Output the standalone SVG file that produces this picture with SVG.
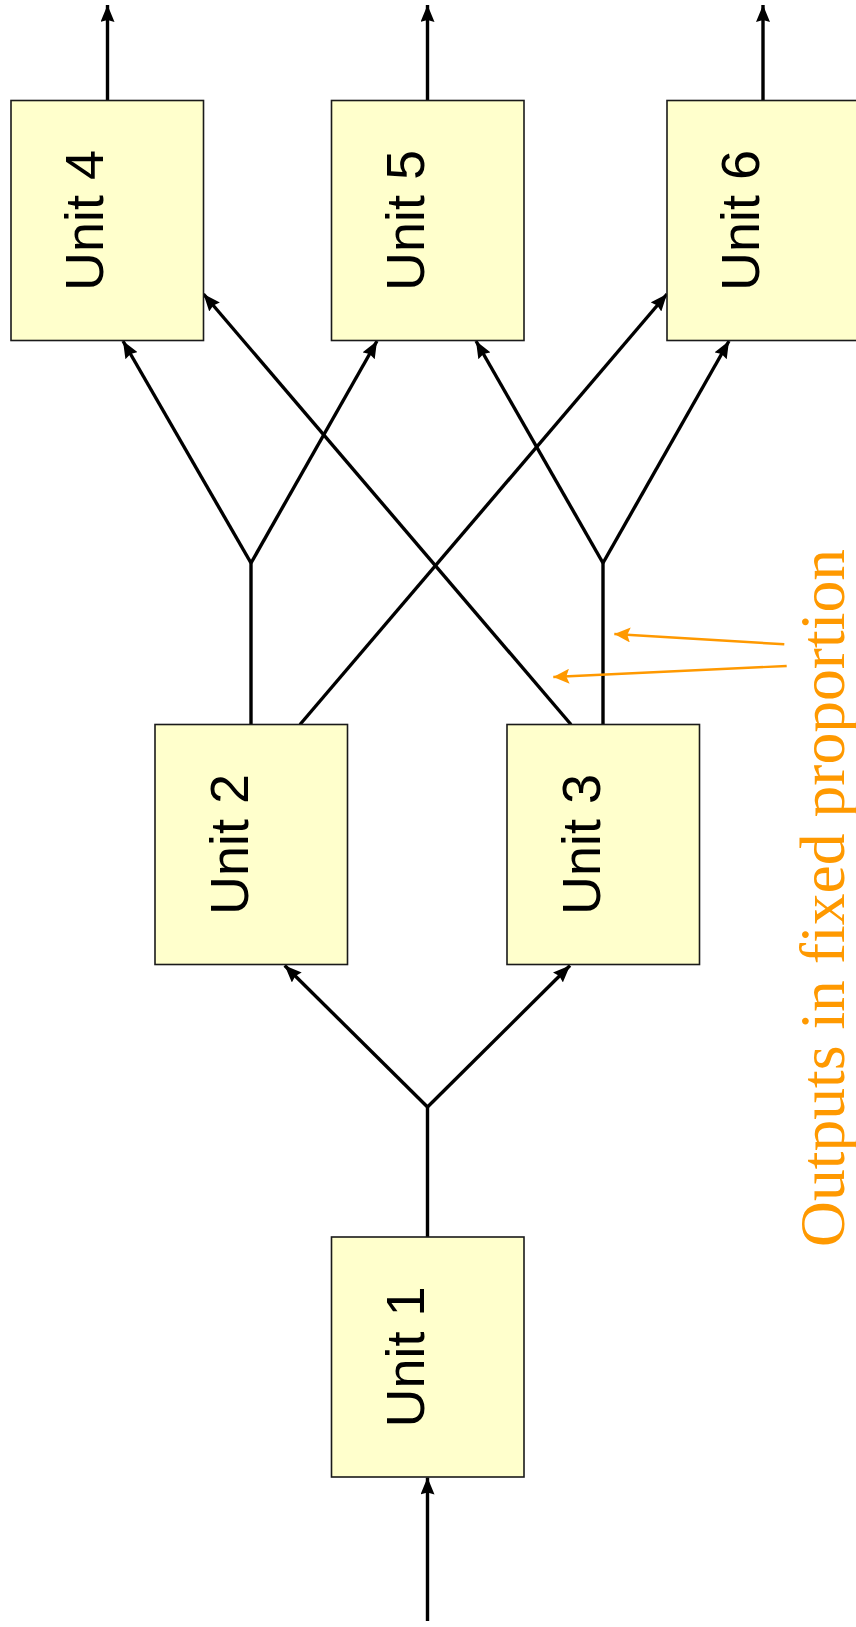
<svg xmlns="http://www.w3.org/2000/svg" width="856" height="1627" viewBox="0 0 856 1627">
<style>
.box{fill:#FFFFCC;stroke:#1a1a1a;stroke-width:1.6}
.lbl{font-family:"Liberation Sans",Arial,sans-serif;font-size:54px;fill:#000;text-anchor:middle}
.c{fill:none;stroke:#000;stroke-width:3.4}
.o{fill:none;stroke:#FF9900;stroke-width:2.4}
.note{font-family:"Liberation Serif","Times New Roman",serif;font-size:63px;fill:#FF9900;text-anchor:middle}
</style>
<defs>
<marker id="ab" markerUnits="userSpaceOnUse" markerWidth="18" markerHeight="14" refX="17" refY="7" orient="auto">
<path d="M0,0 L17,7 L0,14 L2,7 Z" fill="#000"/>
</marker>
<marker id="ao" markerUnits="userSpaceOnUse" markerWidth="17" markerHeight="15" refX="16" refY="7.5" orient="auto">
<path d="M0,0 L16,7.5 L0,15 L3,7.5 Z" fill="#FF9900"/>
</marker>
</defs>
<g id="connectors">
<path class="c" d="M107.5,100.5 V5" marker-end="url(#ab)"/>
<path class="c" d="M427.5,100.5 V5" marker-end="url(#ab)"/>
<path class="c" d="M763,100.5 V5" marker-end="url(#ab)"/>
<path class="c" d="M251,724.5 V563"/>
<path class="c" d="M251,563 L123,341" marker-end="url(#ab)"/>
<path class="c" d="M251,563 L377,341" marker-end="url(#ab)"/>
<path class="c" d="M603,724.5 V563"/>
<path class="c" d="M603,563 L476,341" marker-end="url(#ab)"/>
<path class="c" d="M603,563 L729,341" marker-end="url(#ab)"/>
<path class="c" d="M300,724.5 L667,294" marker-end="url(#ab)"/>
<path class="c" d="M571,724.5 L203.5,294" marker-end="url(#ab)"/>
<path class="c" d="M427.5,1237 V1107"/>
<path class="c" d="M427.5,1107 L284.7,965.5" marker-end="url(#ab)"/>
<path class="c" d="M427.5,1107 L570,965.5" marker-end="url(#ab)"/>
<path class="c" d="M427.5,1621 V1477.5" marker-end="url(#ab)"/>
<path class="o" d="M784.3,644.3 L614.3,634" marker-end="url(#ao)"/>
<path class="o" d="M786.7,666 L553.3,677" marker-end="url(#ao)"/>
</g>
<g id="unit4"><rect class="box" x="11" y="100.5" width="192.5" height="240"/><text class="lbl" transform="translate(103,220.5) rotate(-90)">Unit 4</text></g>
<g id="unit5"><rect class="box" x="331.5" y="100.5" width="192.5" height="240"/><text class="lbl" transform="translate(423.5,220.5) rotate(-90)">Unit 5</text></g>
<g id="unit6"><rect class="box" x="667" y="100.5" width="192.5" height="240"/><text class="lbl" transform="translate(759,220.5) rotate(-90)">Unit 6</text></g>
<g id="unit2"><rect class="box" x="155" y="724.5" width="192.5" height="240"/><text class="lbl" transform="translate(248,844.5) rotate(-90)">Unit 2</text></g>
<g id="unit3"><rect class="box" x="507" y="724.5" width="192.5" height="240"/><text class="lbl" transform="translate(600,844.5) rotate(-90)">Unit 3</text></g>
<g id="unit1"><rect class="box" x="331.5" y="1237" width="192.5" height="240"/><text class="lbl" transform="translate(424,1357) rotate(-90)">Unit 1</text></g>
<g id="note"><text class="note" transform="translate(844,898) rotate(-90)" textLength="698" lengthAdjust="spacingAndGlyphs">Outputs in fixed proportion</text></g>
</svg>
